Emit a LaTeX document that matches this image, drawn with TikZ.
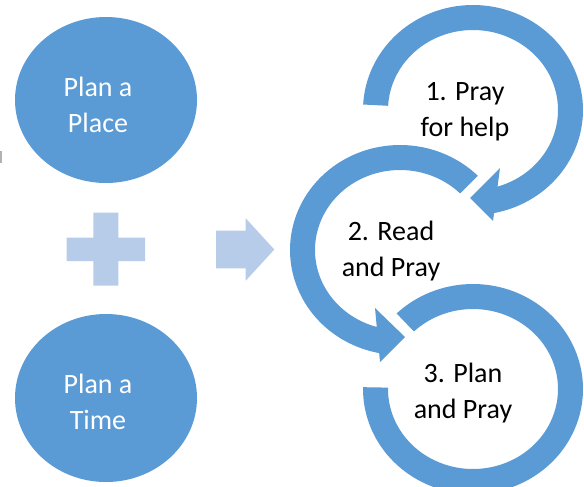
\documentclass[tikz,border=0pt]{standalone}
\usepackage{fontspec}
\setmainfont{Carlito}
\definecolor{accent}{RGB}{91,155,213}
\definecolor{pale}{RGB}{182,204,232}
\begin{document}
\begin{tikzpicture}[x=0.75pt,y=-0.75pt,
  band/.style={fill=accent,draw=none},
  paleshape/.style={fill=pale,draw=none},
  lbl/.style={font=\fontsize{21}{27}\selectfont,align=center,inner sep=0pt,text=black},
  wlbl/.style={lbl,text=white}]
\useasboundingbox (0,0) rectangle (584,486);
\clip (0,0) rectangle (584,486);

% left circles
\fill[accent] (106,100) ellipse [x radius=91, y radius=83];
\fill[accent] (106,398) ellipse [x radius=91, y radius=84];
\node[wlbl] (place) at (98,105) {Plan a\\Place};
\node[wlbl] (time) at (98,402) {Plan a\\Time};

% small grey mark at left edge
\fill[gray!60] (0,151) rectangle (1.5,163);

% plus sign
\fill[paleshape] (93.3,212.7) -- (118.3,212.7) -- (118.3,237.7) -- (145,237.7) -- (145,261)
  -- (118.3,261) -- (118.3,285.7) -- (93.3,285.7) -- (93.3,261) -- (66.7,261)
  -- (66.7,237.7) -- (93.3,237.7) -- cycle;

% block arrow
\fill[paleshape] (216,230.7) -- (245.7,230.7) -- (245.7,218.3) -- (274.3,249.5)
  -- (245.7,280.7) -- (245.7,268.3) -- (216,268.3) -- cycle;

% circular arrow 1
\fill[band] plot[domain=183:440,samples=100,variable=\t] ({473+110*cos(\t)},{110+105*sin(\t)})
  -- plot[domain=440:183,samples=100,variable=\t] ({473+85*cos(\t)},{110+80*sin(\t)}) -- cycle;
\fill[band] (500,168) -- (470,198) -- (493,221) -- cycle;

% circular arrow 2
\fill[band] plot[domain=100:315,samples=100,variable=\t] ({400+110*cos(\t)},{250+105*sin(\t)})
  -- plot[domain=315:100,samples=100,variable=\t] ({400+85*cos(\t)},{250+80*sin(\t)}) -- cycle;
\fill[band] (375,308) -- (405,337) -- (380,362) -- cycle;

% ring 3
\fill[band] plot[domain=226:541,samples=120,variable=\t] ({473+110*cos(\t)},{389+105*sin(\t)})
  -- plot[domain=541:226,samples=120,variable=\t] ({473+85*cos(\t)},{389+80*sin(\t)}) -- cycle;

% step texts
\node[lbl] (s1) at (465,112) {1. Pray\\for help};
\node[lbl] (s2) at (391,251) {2. Read\\and Pray};
\node[lbl] (s3) at (463,393) {3. Plan\\and Pray};
\end{tikzpicture}
\end{document}
